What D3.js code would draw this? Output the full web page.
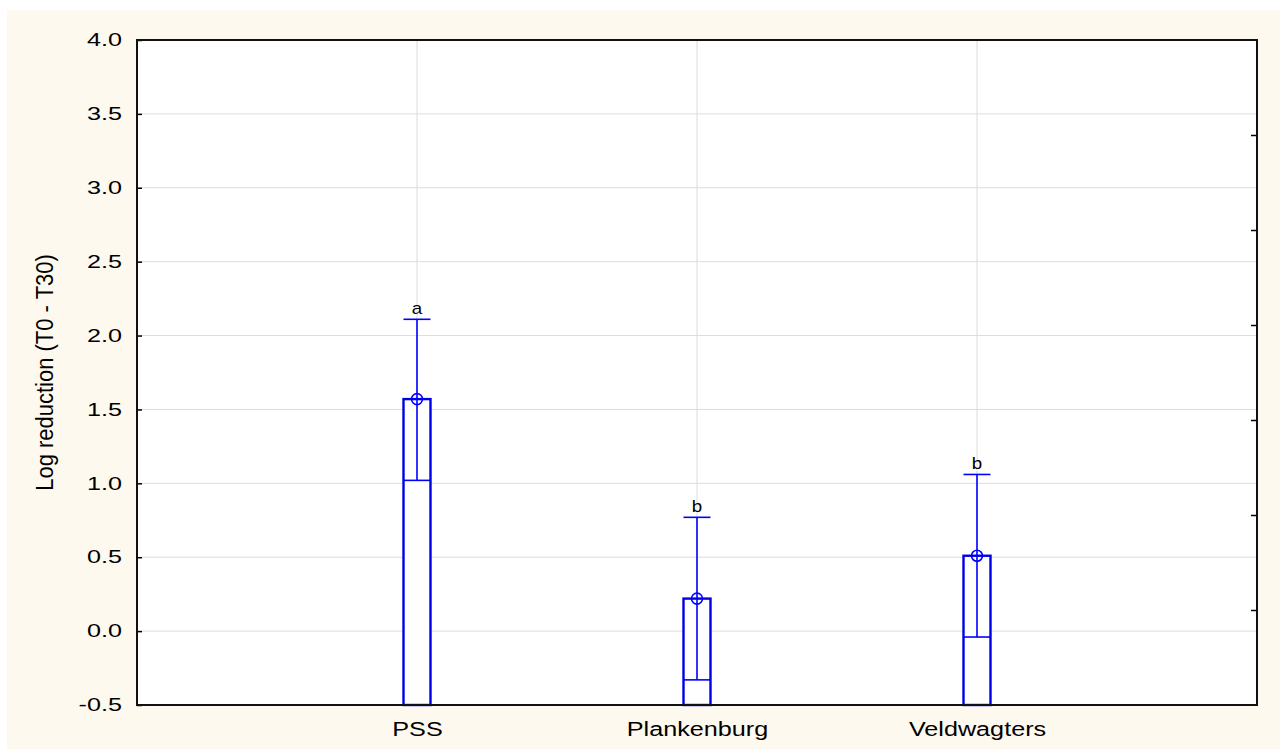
<!DOCTYPE html>
<html>
<head>
<meta charset="utf-8">
<script src="https://cdn.jsdelivr.net/npm/d3@7"></script>
<style>
  body { margin: 0; background: #ffffff; }
  text { font-family: "Liberation Sans", Arial, sans-serif; fill: #000; }
</style>
</head>
<body>
<div id="chart"></div>
<script>
//group names on the x axis
var categories = ["PSS", "Plankenburg", "Veldwagters"];
//mean log reduction (top of the box, circle marker)
var means = [1.57, 0.22, 0.51];
//inner line of the box
var innerValues = [1.02, -0.33, -0.04];
//top of the whisker
var upperValues = [2.11, 0.77, 1.06];
//bottom of the box (cut at the axis minimum)
var boxBottoms = [-0.5, -0.5, -0.5];
//significance letters above the whiskers
var groupLetters = ["a", "b", "b"];
//labelled ticks on the left axis
var yTicks = [-0.5, 0.0, 0.5, 1.0, 1.5, 2.0, 2.5, 3.0, 3.5, 4.0];
var yTickLabels = ["-0.5", "0.0", "0.5", "1.0", "1.5", "2.0", "2.5", "3.0", "3.5", "4.0"];
//unlabelled ticks on the right axis (7 divisions)
var rightTicks = [1, 2, 3, 4, 5, 6];

function init() {
  var w = 1280;
  var h = 749;
  var left = 137, right = 1257, top = 40, bottom = 705;
  var boxWidth = 27;

  var svg = d3
    .select("#chart")
    .append("svg")
    .attr("width", w)
    .attr("height", h);

  //cream page background
  svg
    .append("rect")
    .attr("x", 7)
    .attr("y", 10)
    .attr("width", w - 7)
    .attr("height", h - 10)
    .style("fill", "#fdf9ef");

  //white plot area
  svg
    .append("rect")
    .attr("x", left)
    .attr("y", top)
    .attr("width", right - left)
    .attr("height", bottom - top)
    .style("fill", "#ffffff");

  //scales
  var xScale = d3.scalePoint().domain(categories).range([left, right]).padding(1);
  var yScale = d3.scaleLinear().domain([-0.5, 4.0]).range([bottom, top]);
  var rightScale = d3.scaleLinear().domain([0, 7]).range([bottom, top]);

  //horizontal grid lines
  svg
    .selectAll(".hgrid")
    .data(yTicks)
    .enter()
    .append("line")
    .attr("class", "hgrid")
    .attr("x1", left)
    .attr("x2", right)
    .attr("y1", function (d) { return yScale(d); })
    .attr("y2", function (d) { return yScale(d); })
    .style("stroke", "#dcdcdc")
    .style("stroke-width", 1);

  //vertical grid lines at each group
  svg
    .selectAll(".vgrid")
    .data(categories)
    .enter()
    .append("line")
    .attr("class", "vgrid")
    .attr("x1", function (d) { return xScale(d); })
    .attr("x2", function (d) { return xScale(d); })
    .attr("y1", top)
    .attr("y2", bottom)
    .style("stroke", "#dcdcdc")
    .style("stroke-width", 1);

  //left axis with inward ticks, plain hyphen for the minus sign
  var yAxis = d3.axisLeft(yScale).tickValues(yTicks).tickSize(-5).tickPadding(0)
    .tickFormat(function (d, i) { return yTickLabels[i]; });
  var gy = svg.append("g").attr("transform", "translate(" + left + ",0)").call(yAxis);
  gy.select(".domain").remove();
  gy.selectAll("line").style("stroke", "#000").style("stroke-width", 1.5);
  gy.selectAll("text")
    .attr("x", 0)
    .attr("transform", "translate(-15,0) scale(1.4,1)")
    .style("font-size", "18px")
    .style("text-anchor", "end");

  //right axis, inward unlabelled ticks
  var rAxis = d3.axisRight(rightScale).tickValues(rightTicks).tickSize(-6).tickFormat("");
  var gr = svg.append("g").attr("transform", "translate(" + right + ",0)").call(rAxis);
  gr.select(".domain").remove();
  gr.selectAll("line").style("stroke", "#000").style("stroke-width", 1.5);

  //bottom axis with small inward ticks and group labels
  var xAxis = d3.axisBottom(xScale).tickSize(-4).tickPadding(0);
  var gx = svg.append("g").attr("transform", "translate(0," + bottom + ")").call(xAxis);
  gx.select(".domain").remove();
  gx.selectAll("line").style("stroke", "#000").style("stroke-width", 1.5);
  gx.selectAll("text")
    .attr("y", 0)
    .attr("dy", null)
    .attr("transform", "translate(0,31) scale(1.2,1)")
    .style("font-size", "21px")
    .style("text-anchor", "middle");

  //one group per box
  var boxes = svg
    .selectAll(".box")
    .data(categories)
    .enter()
    .append("g")
    .attr("class", "box");

  //box from bottom to mean
  boxes
    .append("rect")
    .attr("x", function (d) { return xScale(d) - boxWidth / 2; })
    .attr("y", function (d, i) { return yScale(means[i]); })
    .attr("width", boxWidth)
    .attr("height", function (d, i) { return yScale(boxBottoms[i]) - yScale(means[i]); })
    .style("fill", "#ffffff")
    .style("stroke", "#0000e6")
    .style("stroke-width", 2.4);

  //inner line of the box
  boxes
    .append("line")
    .attr("x1", function (d) { return xScale(d) - boxWidth / 2; })
    .attr("x2", function (d) { return xScale(d) + boxWidth / 2; })
    .attr("y1", function (d, i) { return yScale(innerValues[i]); })
    .attr("y2", function (d, i) { return yScale(innerValues[i]); })
    .style("stroke", "#0000ff")
    .style("stroke-width", 1.6);

  //whisker from inner line to top
  boxes
    .append("line")
    .attr("x1", function (d) { return xScale(d); })
    .attr("x2", function (d) { return xScale(d); })
    .attr("y1", function (d, i) { return yScale(innerValues[i]); })
    .attr("y2", function (d, i) { return yScale(upperValues[i]); })
    .style("stroke", "#0000ff")
    .style("stroke-width", 1.6);

  //whisker cap
  boxes
    .append("line")
    .attr("x1", function (d) { return xScale(d) - boxWidth / 2; })
    .attr("x2", function (d) { return xScale(d) + boxWidth / 2; })
    .attr("y1", function (d, i) { return yScale(upperValues[i]); })
    .attr("y2", function (d, i) { return yScale(upperValues[i]); })
    .style("stroke", "#0000ff")
    .style("stroke-width", 1.6);

  //mean marker
  boxes
    .append("circle")
    .attr("cx", function (d) { return xScale(d); })
    .attr("cy", function (d, i) { return yScale(means[i]); })
    .attr("r", 5.5)
    .style("fill", "none")
    .style("stroke", "#0000ff")
    .style("stroke-width", 1.6);

  //letters above whiskers
  boxes
    .append("text")
    .attr("transform", function (d, i) {
      return "translate(" + xScale(d) + "," + (yScale(upperValues[i]) - 5) + ") scale(1.17,1)";
    })
    .attr("text-anchor", "middle")
    .style("font-size", "16px")
    .text(function (d, i) { return groupLetters[i]; });

  //plot frame
  svg
    .append("rect")
    .attr("x", left)
    .attr("y", top)
    .attr("width", right - left)
    .attr("height", bottom - top)
    .style("fill", "none")
    .style("stroke", "#111")
    .style("stroke-width", 2);

  //title for y axis
  svg
    .append("text")
    .attr("transform", "translate(53," + (top + bottom) / 2 + ") scale(1.1,1) rotate(-90)")
    .attr("text-anchor", "middle")
    .style("font-size", "22px")
    .text("Log reduction (T0 - T30)");
}

window.onload = init;
</script>
</body>
</html>
